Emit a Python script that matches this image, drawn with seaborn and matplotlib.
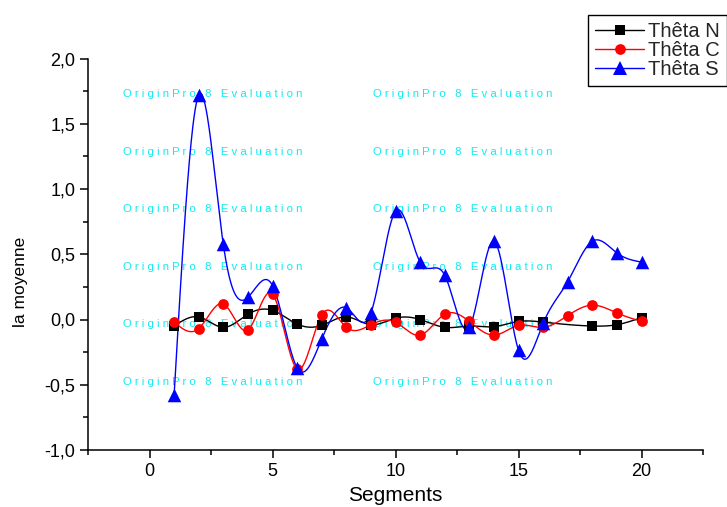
import numpy as np
import pandas as pd
import matplotlib
matplotlib.use("Agg")
import matplotlib.pyplot as plt
from matplotlib.lines import Line2D
from matplotlib.ticker import MultipleLocator, FuncFormatter
import seaborn as sns

# Mean value per segment for each angle
segments = list(range(1, 21))
theta_n = [-0.05, 0.02, -0.06, 0.04, 0.07, -0.035, -0.045, 0.02, -0.04, 0.01,
           0.00, -0.06, -0.05, -0.055, -0.015, -0.02, np.nan, -0.05, -0.04, 0.015]
theta_c = [-0.02, -0.07, 0.12, -0.08, 0.195, -0.38, 0.035, -0.06, -0.04, -0.02,
           -0.12, 0.04, -0.015, -0.12, -0.045, -0.06, 0.03, 0.11, 0.05, -0.015]
theta_s = [-0.58, 1.72, 0.576, 0.17, 0.26, -0.37, -0.15, 0.09, 0.05, 0.83,
           0.44, 0.34, -0.06, 0.60, -0.235, -0.03, 0.29, 0.60, 0.51, 0.44]

series_names = ["Thêta N", "Thêta C", "Thêta S"]
series_values = [theta_n, theta_c, theta_s]
series_colors = ["#000000", "#ff0000", "#0000ff"]
series_markers = ["s", "o", "^"]
series_sizes = [55, 60, 95]

x_ticks = [0, 5, 10, 15, 20]
y_ticks = [-1.0, -0.5, 0.0, 0.5, 1.0, 1.5, 2.0]


def natural_spline(x, y, xs):
    """Natural cubic spline through (x, y), evaluated at xs."""
    x = np.asarray(x, float)
    y = np.asarray(y, float)
    n = len(x)
    h = np.diff(x)
    A = np.zeros((n, n))
    r = np.zeros(n)
    A[0, 0] = A[-1, -1] = 1.0
    for i in range(1, n - 1):
        A[i, i - 1] = h[i - 1]
        A[i, i] = 2 * (h[i - 1] + h[i])
        A[i, i + 1] = h[i]
        r[i] = 6 * ((y[i + 1] - y[i]) / h[i] - (y[i] - y[i - 1]) / h[i - 1])
    M = np.linalg.solve(A, r)
    idx = np.clip(np.searchsorted(x, xs) - 1, 0, n - 2)
    hi = h[idx]
    t = xs - x[idx]
    u = x[idx + 1] - xs
    return (M[idx] * u ** 3 / (6 * hi) + M[idx + 1] * t ** 3 / (6 * hi)
            + (y[idx] / hi - M[idx] * hi / 6) * u
            + (y[idx + 1] / hi - M[idx + 1] * hi / 6) * t)


sns.set_theme(style="ticks")
plt.rcParams["font.family"] = ["Liberation Sans", "DejaVu Sans"]

W, H = 727, 507
fig = plt.figure(figsize=(W / 100, H / 100), dpi=100)
fig.patch.set_facecolor("white")
ax = fig.add_axes([88 / W, 1 - 450 / H, (703 - 88) / W, (450 - 58.5) / H])
ax.set_facecolor("white")

handles = []
for name, vals, col, mk, sz in zip(series_names, series_values, series_colors,
                                   series_markers, series_sizes):
    df = pd.DataFrame({"Segment": segments, "Valeur": vals}).dropna()
    xs = np.linspace(df["Segment"].min(), df["Segment"].max(), 800)
    curve = pd.DataFrame({"Segment": xs,
                          "Valeur": natural_spline(df["Segment"], df["Valeur"], xs)})
    sns.lineplot(data=curve, x="Segment", y="Valeur", color=col, linewidth=1.0,
                 sort=False, estimator=None, ax=ax, zorder=2)
    sns.scatterplot(data=df, x="Segment", y="Valeur", color=col, marker=mk, s=sz,
                    linewidth=0, ax=ax, zorder=3)
    handles.append(Line2D([], [], color=col, linewidth=1.0, marker=mk,
                          markersize=np.sqrt(sz), markeredgewidth=0))

# Evaluation watermark rows
wm_text = " ".join("OriginPro 8 Evaluation")
for ypx in [94, 152, 209, 267, 324, 382]:
    for xpx in [123, 373]:
        ax.text(xpx / W, 1 - ypx / H, wm_text, transform=fig.transFigure,
                ha="left", va="center", fontsize=8.2, color="#10ecf0",
                zorder=1, clip_on=False)

ax.set_xlim(-2.5, 22.5)
ax.set_ylim(-1.0, 2.0)
ax.set_xticks(x_ticks)
ax.set_yticks(y_ticks)
ax.xaxis.set_minor_locator(MultipleLocator(2.5))
ax.yaxis.set_minor_locator(MultipleLocator(0.25))
ax.xaxis.set_major_formatter(FuncFormatter(lambda v, p: f"{v:.0f}"))
ax.yaxis.set_major_formatter(FuncFormatter(lambda v, p: f"{v:.1f}".replace(".", ",")))

for side in ["top", "right"]:
    ax.spines[side].set_visible(False)
for side in ["left", "bottom"]:
    ax.spines[side].set_linewidth(1.1)
    ax.spines[side].set_color("black")

ax.tick_params(axis="both", which="major", direction="out", length=6, width=1.1,
               color="black", labelsize=13, labelcolor="black", pad=3)
ax.tick_params(axis="both", which="minor", direction="out", length=3.5, width=1.1,
               color="black")

ax.set_xlabel("Segments", fontsize=15, color="black", labelpad=5)
ax.set_ylabel("la moyenne", fontsize=12.5, color="black")
ax.yaxis.set_label_coords((28 - 88) / 615, 0.43)
ax.grid(False)

leg = fig.legend(handles, series_names, loc="upper left",
                 bbox_to_anchor=(588 / W, 1 - 15 / H), bbox_transform=fig.transFigure,
                 frameon=True, fancybox=False, fontsize=14.5, handlelength=2.45,
                 handletextpad=0.2, borderpad=0.35, labelspacing=0.0,
                 borderaxespad=0.0)
leg.get_frame().set_edgecolor("black")
leg.get_frame().set_linewidth(1.0)
leg.get_frame().set_facecolor("white")
leg.get_frame().set_alpha(1.0)

fig.savefig("out.png", dpi=100, facecolor="white")
